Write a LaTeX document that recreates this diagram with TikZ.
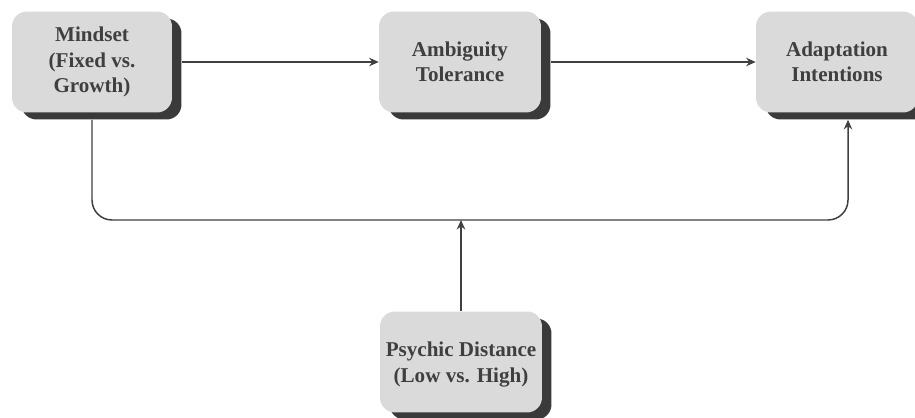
\documentclass[tikz,border=0pt]{standalone}
\usepackage{fontspec}
\setmainfont{Liberation Serif}
\usetikzlibrary{arrows.meta, shadows}
\definecolor{boxgray}{HTML}{DADADA}
\definecolor{shadowgray}{HTML}{3A3A3A}
\definecolor{linegray}{HTML}{404040}
\definecolor{textgray}{HTML}{3F3F3F}

\begin{document}
\begin{tikzpicture}[x=0.02cm, y=-0.02cm,
  box/.style={fill=boxgray, rounded corners=0.3cm, inner sep=2pt,
              minimum width=3.24cm, minimum height=2.02cm,
              align=center, text=textgray,
              font=\fontsize{12}{14.5}\selectfont\bfseries,
              drop shadow={shadow xshift=0.19cm, shadow yshift=-0.14cm,
                           fill=shadowgray, opacity=1}},
  link/.style={draw=linegray, line width=0.85pt,
               -{Stealth[length=0.19cm, width=0.17cm]}}
]
  \useasboundingbox (0,0) rectangle (915,418);

  \node[box, minimum width=3.2cm] (mind) at (92,62) {Mindset\\(Fixed vs.\\Growth)};
  \node[box] (amb)   at (460,62) {Ambiguity\\Tolerance};
  \node[box] (adapt) at (837,62) {Adaptation\\Intentions};
  \node[box, text depth=-0.25cm] (psy) at (461,362) {Psychic Distance\\(Low vs. High)};

  \coordinate (join) at (461,220);

  \draw[link] ([xshift=0.19cm]mind.east) -- (amb.west);
  \draw[link] ([xshift=0.19cm]amb.east) -- (adapt.west);

  % moderation path
  \draw[link, rounded corners=0.4cm] ([yshift=-0.14cm]mind.south) |- (join)
    -| ([xshift=0.22cm, yshift=-0.14cm]adapt.south);
  \draw[link] (psy.north) -- (join);
\end{tikzpicture}
\end{document}
